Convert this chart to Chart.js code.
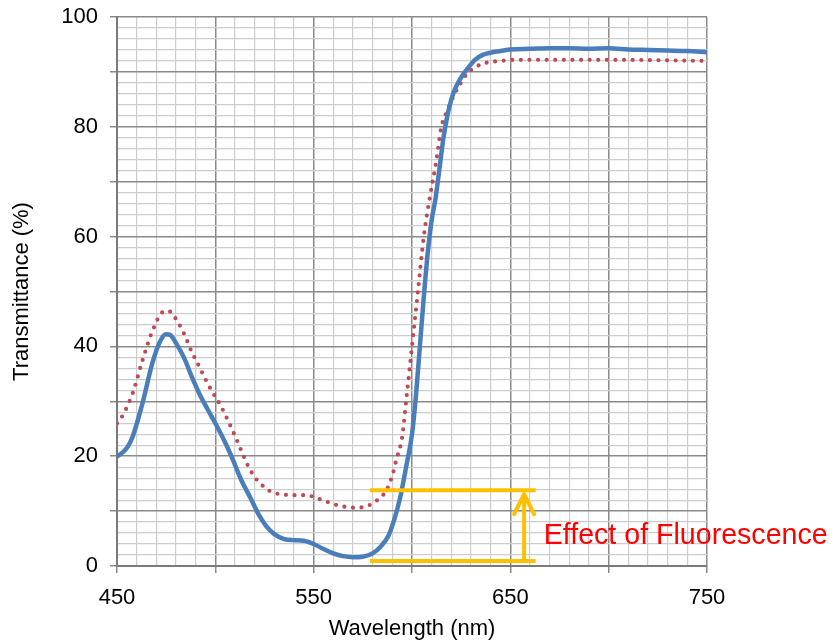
<!DOCTYPE html>
<html>
<head>
<meta charset="utf-8">
<script src="https://cdn.jsdelivr.net/npm/chart.js@4.4.1/dist/chart.umd.min.js"></script>
<style>
  body { margin: 0; background: #fff; }
  canvas { display: block; }
</style>
</head>
<body>
<canvas id="transChart" width="835" height="642"></canvas>
<script>
// Wavelength (nm) / transmittance (%)
const blueWave = [450, 455, 458, 463, 468, 472, 475, 477, 480, 484, 488, 492, 496, 500, 505, 509, 513, 518, 522, 526, 530, 535, 540, 545, 550, 555, 560, 565, 570, 575, 580, 584, 588, 591, 594, 597, 600, 602, 604, 606, 608, 610, 612, 614, 616, 618, 620, 622, 625, 628, 632, 636, 640, 645, 650, 660, 670, 680, 690, 700, 710, 720, 730, 740, 750];
const blueT = [19.9, 21.5, 23.6, 29.7, 37, 41, 42.2, 42.1, 40.6, 38, 34.5, 31.3, 28.6, 26, 22.5, 19.3, 15.8, 12.3, 9.4, 7.2, 5.8, 4.9, 4.7, 4.6, 4.0, 3.1, 2.3, 1.8, 1.6, 1.7, 2.3, 3.5, 5.5, 8.5, 12.5, 18, 24, 31, 40, 49, 57, 63, 67, 72.5, 78, 82, 85, 87, 89, 90.5, 92.2, 93.1, 93.5, 93.8, 94.1, 94.2, 94.3, 94.3, 94.2, 94.3, 94.1, 94.0, 93.9, 93.8, 93.6];

const redWave = [450, 453, 458, 463, 468, 473, 476, 479, 484, 488, 491, 495, 498, 503, 509, 513, 516, 520, 523, 527, 530, 535, 540, 545, 548, 552, 556, 560, 564, 568, 572, 576, 579, 583, 587, 590, 592, 595, 597, 600, 603, 606, 609, 612, 615, 618, 621, 624, 628, 632, 636, 640, 645, 653, 700, 750];
const redT = [26, 27.5, 31.5, 37.5, 42.8, 46.2, 46.5, 45.5, 42.4, 39, 36.9, 34, 32, 29, 24.5, 21.2, 18.7, 16.2, 15, 13.8, 13.3, 13.0, 12.9, 12.9, 12.8, 12.3, 11.8, 11.3, 10.9, 10.7, 10.6, 10.8, 11.2, 12.2, 13.8, 16.5, 19.3, 23.5, 30, 40, 50, 60, 67, 73, 80, 83, 85.5, 87.5, 89.7, 90.8, 91.5, 91.8, 92.0, 92.2, 92.2, 92.0];

// Fluorescence marker (data units)
const fluorWave = [578.6, 662.9];
const fluorLevels = [0.9, 13.8];
const fluorArrowWave = 657;
const fluorLabel = 'Effect of Fluorescence';

const xTickLabels = [450, 550, 650, 750];
const yTickLabels = [0, 20, 40, 60, 80, 100];

const FONT = '"Liberation Sans", Arial, sans-serif';

function toPoints(xs, ys) {
    return xs.map((x, i) => ({ x: x, y: ys[i] }));
}

const annotationPlugin = {
    id: 'fluorescence',
    afterDatasetsDraw(chart) {
        const ctx = chart.ctx;
        const xs = chart.scales.x;
        const ys = chart.scales.y;
        const x1 = xs.getPixelForValue(fluorWave[0]);
        const x2 = xs.getPixelForValue(fluorWave[1]);
        const yLow = ys.getPixelForValue(fluorLevels[0]);
        const yHigh = ys.getPixelForValue(fluorLevels[1]);
        const ax = xs.getPixelForValue(fluorArrowWave);
        ctx.save();
        ctx.strokeStyle = '#ffc000';
        ctx.lineWidth = 4;
        ctx.beginPath();
        ctx.moveTo(x1, yLow); ctx.lineTo(x2, yLow);
        ctx.moveTo(x1, yHigh); ctx.lineTo(x2, yHigh);
        ctx.moveTo(ax, yLow); ctx.lineTo(ax, yHigh + 3);
        ctx.stroke();
        ctx.lineCap = 'round';
        ctx.lineJoin = 'miter';
        ctx.beginPath();
        ctx.moveTo(ax - 10, yHigh + 24);
        ctx.lineTo(ax, yHigh + 4);
        ctx.lineTo(ax + 10, yHigh + 24);
        ctx.stroke();
        ctx.fillStyle = '#ff0000';
        ctx.font = '28.6px ' + FONT;
        ctx.textBaseline = 'alphabetic';
        ctx.textAlign = 'left';
        ctx.fillText(fluorLabel, x2 + 8, yLow - 17);
        ctx.restore();
    }
};

const transCtx = document.getElementById('transChart').getContext('2d');
const transChart = new Chart(transCtx, {
    type: 'line',
    data: {
        datasets: [{
            label: 'Measured',
            data: toPoints(blueWave, blueT),
            borderColor: '#4a7ebb',
            borderWidth: 4.5,
            pointRadius: 0,
            cubicInterpolationMode: 'monotone',
            order: 1
        }, {
            label: 'Without fluorescence',
            data: toPoints(redWave, redT),
            borderColor: '#bd4a55',
            borderWidth: 4.2,
            borderDash: [0, 8.6],
            borderCapStyle: 'round',
            pointRadius: 0,
            cubicInterpolationMode: 'monotone',
            order: 2
        }]
    },
    options: {
        responsive: false,
        animation: false,
        devicePixelRatio: 1,
        layout: {
            padding: { left: 0, top: 17, right: 128, bottom: 0 }
        },
        plugins: {
            legend: { display: false },
            tooltip: { enabled: false }
        },
        scales: {
            x: {
                type: 'linear',
                min: 450,
                max: 750,
                afterFit: (scale) => {
                    scale.height = 76;
                    scale.paddingLeft = 0;
                    scale.paddingRight = 0;
                },
                ticks: {
                    stepSize: 10,
                    autoSkip: false,
                    maxRotation: 0,
                    padding: 12,
                    color: '#000',
                    font: { family: FONT, size: 22 },
                    callback: (v) => xTickLabels.includes(v) ? String(v) : ''
                },
                grid: {
                    color: (c) => c.tick && c.tick.value % 50 === 0 ? '#8a8a8a' : '#cdcdcd',
                    lineWidth: (c) => c.tick && c.tick.value % 50 === 0 ? 1.5 : 1.2,
                    tickLength: 7,
                    tickColor: (c) => c.tick && c.tick.value % 50 === 0 ? '#8a8a8a' : 'rgba(0,0,0,0)'
                },
                border: { color: '#7a7a7a', width: 2 },
                title: {
                    display: true,
                    text: 'Wavelength (nm)',
                    color: '#000',
                    font: { family: FONT, size: 22 },
                    padding: { top: 0, bottom: 0 }
                }
            },
            y: {
                min: 0,
                max: 100,
                afterFit: (scale) => {
                    scale.width = 117;
                    scale.paddingTop = 0;
                    scale.paddingBottom = 0;
                },
                ticks: {
                    stepSize: 2,
                    autoSkip: false,
                    padding: 12,
                    color: '#000',
                    font: { family: FONT, size: 22 },
                    callback: (v) => yTickLabels.includes(v) ? String(v) : ''
                },
                grid: {
                    color: (c) => c.tick && c.tick.value % 10 === 0 ? '#8a8a8a' : '#cdcdcd',
                    lineWidth: (c) => c.tick && c.tick.value % 10 === 0 ? 1.5 : 1.2,
                    tickLength: 7,
                    tickColor: (c) => c.tick && c.tick.value % 10 === 0 ? '#8a8a8a' : 'rgba(0,0,0,0)'
                },
                border: { color: '#7a7a7a', width: 2 },
                title: {
                    display: true,
                    text: 'Transmittance (%)',
                    color: '#000',
                    font: { family: FONT, size: 22 },
                    padding: { top: 9, bottom: 0 }
                }
            }
        }
    },
    plugins: [annotationPlugin]
});
</script>
</body>
</html>
